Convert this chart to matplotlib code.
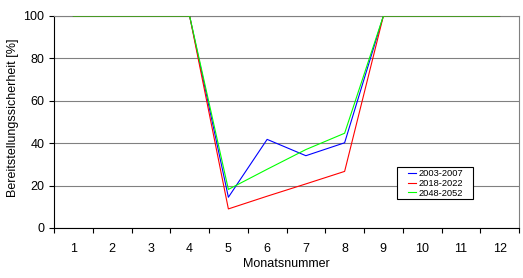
import matplotlib
matplotlib.use("Agg")
import matplotlib.pyplot as plt
from matplotlib.patches import Rectangle
import numpy as np

months = list(range(1, 13))
labels = ["2003-2007", "2018-2022", "2048-2052"]
blue = [100, 100, 100, 100, 14.5, 41.8, 34.1, 40.2, 100, 100, 100, 100]
red = [100, 100, 100, 100, 9.0, 15.0, 20.8, 26.7, 100, 100, 100, 100]
green = [100, 100, 100, 100, 18.2, 27.7, 37.0, 44.7, 100, 100, 100, 100]
colors = ["#0000ff", "#ff0000", "#00ff00"]

plt.rcParams['font.family'] = ['Liberation Sans', 'DejaVu Sans']

fig = plt.figure(figsize=(5.23, 2.78), dpi=100)
ax = fig.add_axes([54/523, 1-228/278, (519-54)/523, (228-16)/278])

for vals, c, lab in zip([blue, red, green], colors, labels):
    ax.plot(months, vals, color=c, lw=0.8, label=lab, zorder=3)

ax.set_xlim(0.5, 12.5)
ax.set_ylim(0, 100)
ax.set_yticks([0, 20, 40, 60, 80, 100])
ax.set_xticks(np.arange(0.5, 13, 1))
ax.set_xticklabels([])
ax.set_xticks(months, minor=True)
ax.set_xticklabels([str(m) for m in months], minor=True)
ax.tick_params(axis='x', which='major', direction='out', length=3.5, width=0.8, color='black')
ax.tick_params(axis='x', which='minor', length=0, pad=11, labelsize=9)
ax.tick_params(axis='y', direction='out', length=3.8, width=0.8, pad=3, labelsize=9)

ax.grid(axis='y', color='#808080', lw=0.8, zorder=1)
for s in ['top', 'right']:
    ax.spines[s].set_color('#808080')
    ax.spines[s].set_linewidth(0.8)
for s in ['left', 'bottom']:
    ax.spines[s].set_color('black')
    ax.spines[s].set_linewidth(0.8)

ax.set_xlabel("Monatsnummer", fontsize=9, labelpad=2)
ax.set_ylabel("Bereitstellungssicherheit [%]", fontsize=9)
ax.yaxis.set_label_coords(-0.075, 0.52)

# legend frame
rect = Rectangle(((397-54)/465, 1-(199-16)/212), 76/465, 32/212,
                 transform=ax.transAxes, facecolor='white', edgecolor='black',
                 lw=0.8, zorder=5)
ax.add_patch(rect)
leg = ax.legend(loc='center', bbox_to_anchor=((435.5-54)/465, 1-(183.5-16)/212),
                fontsize=6.7, frameon=False,
                handlelength=0.9, handletextpad=0.2, labelspacing=0.08,
                borderpad=0, borderaxespad=0)
leg.set_zorder(6)

fig.savefig("out.png", dpi=100)
